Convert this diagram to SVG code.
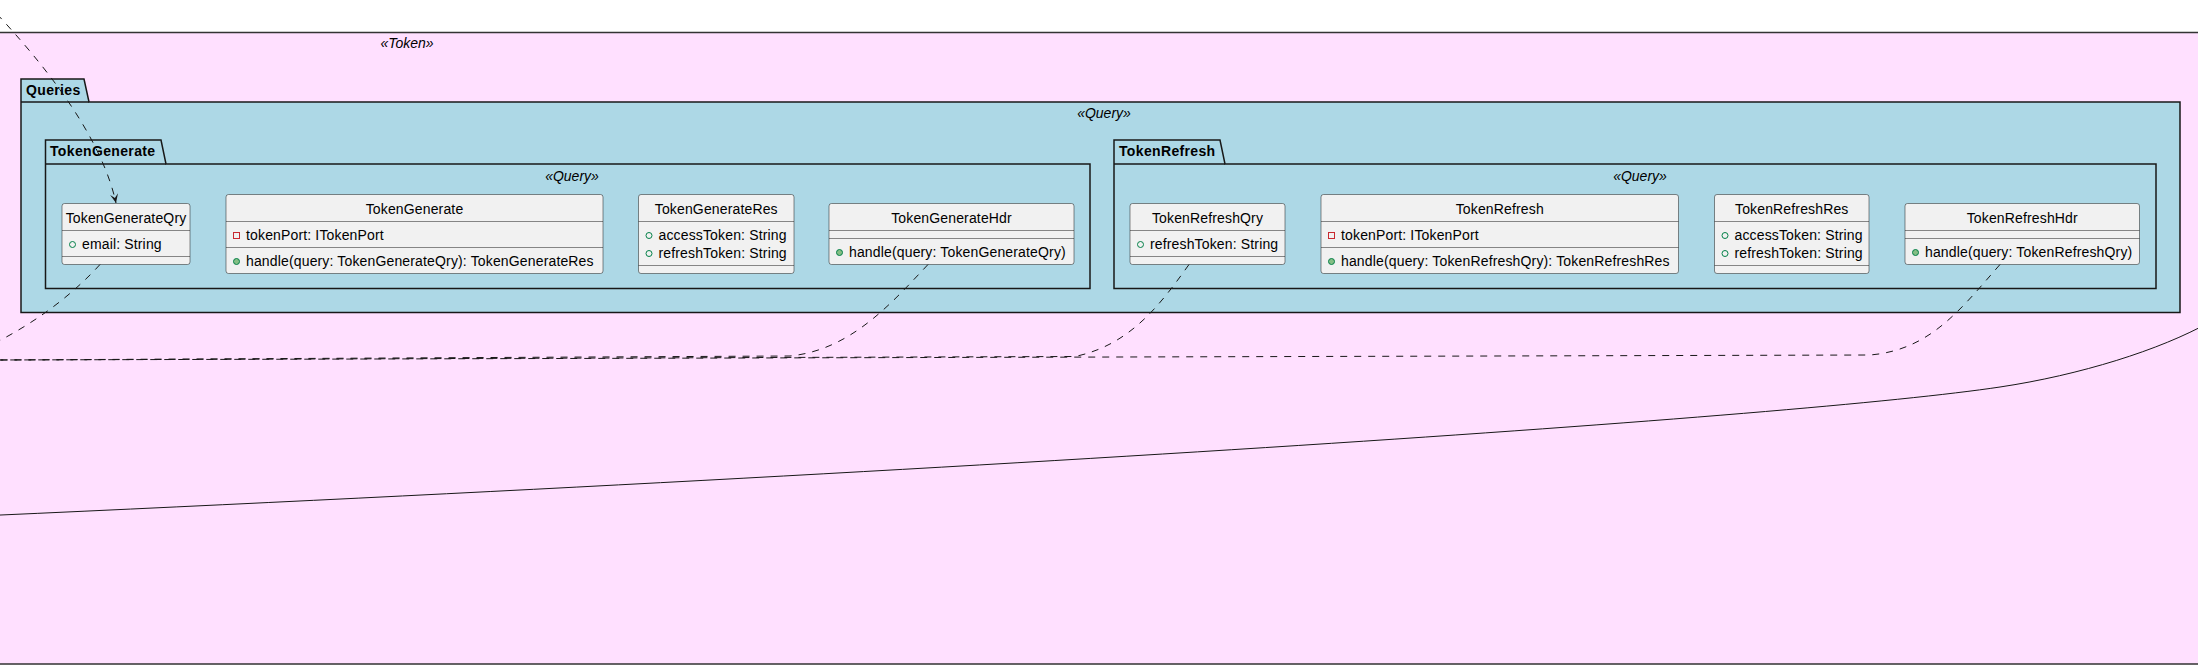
<svg xmlns="http://www.w3.org/2000/svg" width="2198" height="667" viewBox="0 0 2198 667">
<style>
.pk{fill:#ADD8E6;stroke:#181818;stroke-width:1.5}
.pkl{fill:none;stroke:#181818;stroke-width:1.5}
.pn{font-family:"Liberation Sans",Arial,sans-serif;font-size:14px;font-weight:bold;fill:#000;letter-spacing:0.35px}
.st{font-family:"Liberation Sans",Arial,sans-serif;font-size:14px;font-style:italic;fill:#000;text-anchor:middle}
.bx{fill:#F1F1F1;stroke:#181818;stroke-width:0.5}
.sp{stroke:#181818;stroke-width:0.5}
.cn{font-family:"Liberation Sans",Arial,sans-serif;font-size:14px;fill:#000;text-anchor:middle;letter-spacing:0.15px}
.tx{font-family:"Liberation Sans",Arial,sans-serif;font-size:14px;fill:#000;letter-spacing:0.15px}
.pf{fill:none;stroke:#038048;stroke-width:1}
.pm{fill:#84BE84;stroke:#038048;stroke-width:1}
.pr{fill:none;stroke:#C82930;stroke-width:1}
.dl{fill:none;stroke:#181818;stroke-width:1;stroke-dasharray:7,7}
.sl{fill:none;stroke:#181818;stroke-width:1}
</style>
<defs>
<marker id="ah" viewBox="-10 -5 11 10" refX="0" refY="0" markerWidth="11" markerHeight="10" markerUnits="userSpaceOnUse" orient="auto">
<path d="M0,0 L-9,-4 L-5,0 L-9,4 Z" fill="#181818"/>
</marker>
</defs>
<rect width="2198" height="667" fill="#FFFFFF"/>
<g id="pkg-Token">
<rect x="-20" y="32.5" width="2240" height="631.5" fill="#FFE0FF" stroke="#333333" stroke-width="1.5"/>
<text class="st" x="407" y="48">«Token»</text>
</g>
<g id="pkg-Queries">
<path class="pk" d="M21,79 L84,79 L89,102 L2180,102 L2180,312.5 L21,312.5 Z"/>
<line class="pkl" x1="21" y1="102" x2="89" y2="102"/>
<text class="pn" x="26" y="95">Queries</text>
<text class="st" x="1104" y="118">«Query»</text>
</g>
<g id="pkg-TokenGenerate">
<path class="pk" d="M45.5,140 L161,140 L166,164 L1090,164 L1090,288.5 L45.5,288.5 Z"/>
<line class="pkl" x1="45.5" y1="164" x2="166" y2="164"/>
<text class="pn" x="50" y="156">TokenGenerate</text>
<text class="st" x="572" y="181">«Query»</text>
</g>
<g id="pkg-TokenRefresh">
<path class="pk" d="M1114,140 L1220,140 L1225,164 L2156,164 L2156,288.5 L1114,288.5 Z"/>
<line class="pkl" x1="1114" y1="164" x2="1225" y2="164"/>
<text class="pn" x="1119" y="156">TokenRefresh</text>
<text class="st" x="1640" y="181">«Query»</text>
</g>
<g id="TokenGenerateQry">
<rect class="bx" x="62" y="203.5" width="128" height="61" rx="2.5"/>
<text class="cn" x="126" y="223">TokenGenerateQry</text>
<line class="sp" x1="62" y1="230.5" x2="190" y2="230.5"/>
<circle class="pf" cx="72.5" cy="244.5" r="3"/>
<text class="tx" x="82" y="249">email: String</text>
<line class="sp" x1="62" y1="256.5" x2="190" y2="256.5"/>
</g>
<g id="TokenGenerate">
<rect class="bx" x="226" y="194.5" width="377" height="79" rx="2.5"/>
<text class="cn" x="414.5" y="214">TokenGenerate</text>
<line class="sp" x1="226" y1="221.5" x2="603" y2="221.5"/>
<rect class="pr" x="233.5" y="232.5" width="6" height="6"/>
<text class="tx" x="246" y="240">tokenPort: ITokenPort</text>
<line class="sp" x1="226" y1="247.5" x2="603" y2="247.5"/>
<circle class="pm" cx="236.5" cy="261.5" r="3"/>
<text class="tx" x="246" y="266">handle(query: TokenGenerateQry): TokenGenerateRes</text>
</g>
<g id="TokenGenerateRes">
<rect class="bx" x="638.5" y="194.5" width="155.5" height="79" rx="2.5"/>
<text class="cn" x="716.25" y="214">TokenGenerateRes</text>
<line class="sp" x1="638.5" y1="221.5" x2="794" y2="221.5"/>
<circle class="pf" cx="649" cy="235.5" r="3"/>
<text class="tx" x="658.5" y="240">accessToken: String</text>
<circle class="pf" cx="649" cy="253.5" r="3"/>
<text class="tx" x="658.5" y="258">refreshToken: String</text>
<line class="sp" x1="638.5" y1="265.5" x2="794" y2="265.5"/>
</g>
<g id="TokenGenerateHdr">
<rect class="bx" x="829" y="203.5" width="245" height="61" rx="2.5"/>
<text class="cn" x="951.5" y="223">TokenGenerateHdr</text>
<line class="sp" x1="829" y1="230.5" x2="1074" y2="230.5"/>
<line class="sp" x1="829" y1="238.5" x2="1074" y2="238.5"/>
<circle class="pm" cx="839.5" cy="252.5" r="3"/>
<text class="tx" x="849" y="257">handle(query: TokenGenerateQry)</text>
</g>
<g id="TokenRefreshQry">
<rect class="bx" x="1130" y="203.5" width="155" height="61" rx="2.5"/>
<text class="cn" x="1207.5" y="223">TokenRefreshQry</text>
<line class="sp" x1="1130" y1="230.5" x2="1285" y2="230.5"/>
<circle class="pf" cx="1140.5" cy="244.5" r="3"/>
<text class="tx" x="1150" y="249">refreshToken: String</text>
<line class="sp" x1="1130" y1="256.5" x2="1285" y2="256.5"/>
</g>
<g id="TokenRefresh">
<rect class="bx" x="1321" y="194.5" width="357.5" height="79" rx="2.5"/>
<text class="cn" x="1499.75" y="214">TokenRefresh</text>
<line class="sp" x1="1321" y1="221.5" x2="1678.5" y2="221.5"/>
<rect class="pr" x="1328.5" y="232.5" width="6" height="6"/>
<text class="tx" x="1341" y="240">tokenPort: ITokenPort</text>
<line class="sp" x1="1321" y1="247.5" x2="1678.5" y2="247.5"/>
<circle class="pm" cx="1331.5" cy="261.5" r="3"/>
<text class="tx" x="1341" y="266">handle(query: TokenRefreshQry): TokenRefreshRes</text>
</g>
<g id="TokenRefreshRes">
<rect class="bx" x="1714.5" y="194.5" width="154.5" height="79" rx="2.5"/>
<text class="cn" x="1791.75" y="214">TokenRefreshRes</text>
<line class="sp" x1="1714.5" y1="221.5" x2="1869" y2="221.5"/>
<circle class="pf" cx="1725" cy="235.5" r="3"/>
<text class="tx" x="1734.5" y="240">accessToken: String</text>
<circle class="pf" cx="1725" cy="253.5" r="3"/>
<text class="tx" x="1734.5" y="258">refreshToken: String</text>
<line class="sp" x1="1714.5" y1="265.5" x2="1869" y2="265.5"/>
</g>
<g id="TokenRefreshHdr">
<rect class="bx" x="1905" y="203.5" width="234.5" height="61" rx="2.5"/>
<text class="cn" x="2022.25" y="223">TokenRefreshHdr</text>
<line class="sp" x1="1905" y1="230.5" x2="2139.5" y2="230.5"/>
<line class="sp" x1="1905" y1="238.5" x2="2139.5" y2="238.5"/>
<circle class="pm" cx="1915.5" cy="252.5" r="3"/>
<text class="tx" x="1925" y="257">handle(query: TokenRefreshQry)</text>
</g>
<g id="connectors">
<path class="dl" d="M-3,14 C35,55 100,130 116,203" marker-end="url(#ah)"/>
<path class="dl" d="M100,264.5 C75,292 40,320 -5,343"/>
<path class="dl" d="M928,264.5 C890,305 850,350 790,356 L-5,360"/>
<path class="dl" d="M1189,264.5 C1160,305 1130,345 1075,356.5 L-5,360"/>
<path class="dl" d="M2000,264.5 C1960,310 1930,350 1870,355 L-5,360"/>
<path class="sl" d="M-10,515.5 C1000,470 1800,417 2000,387 C2080,375 2160,350 2210,322"/>
</g>
</svg>
